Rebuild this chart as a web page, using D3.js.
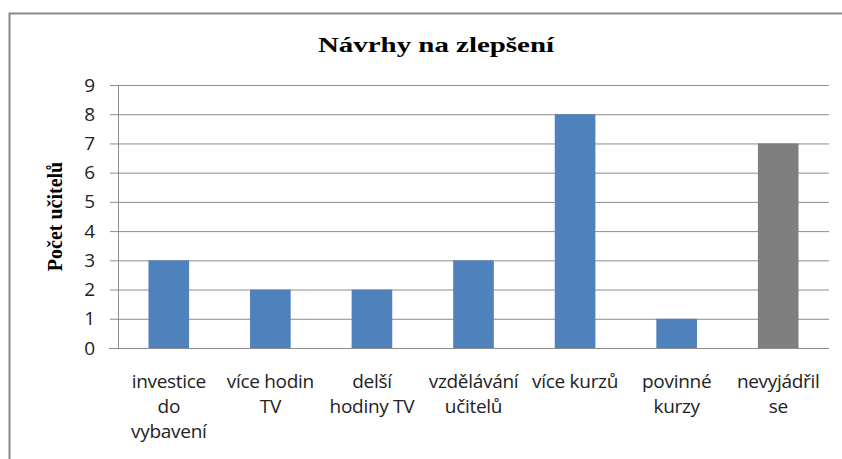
<!DOCTYPE html>
<html>
<head>
<meta charset="utf-8">
<script src="https://cdn.jsdelivr.net/npm/d3@7"></script>
<style>
  html, body { margin: 0; padding: 0; background: #fff; }
</style>
</head>
<body>
<div id="chart"></div>
<script>
// ---- data ----
const categories = ["investice do vybavení", "více hodin TV", "delší hodiny TV", "vzdělávání učitelů", "více kurzů", "povinné kurzy", "nevyjádřil se"];
const labelLines = [["investice", "do", "vybavení"], ["více hodin", "TV"], ["delší", "hodiny TV"], ["vzdělávání", "učitelů"], ["více kurzů"], ["povinné", "kurzy"], ["nevyjádřil", "se"]];
const values = [3, 2, 2, 3, 8, 1, 7];
const barColors = ["#4f81bd", "#4f81bd", "#4f81bd", "#4f81bd", "#4f81bd", "#4f81bd", "#7f7f7f"];
const yTicks = [0, 1, 2, 3, 4, 5, 6, 7, 8, 9];

const W = 842, H = 459;
const margin = {top: 85, right: 13, bottom: 111, left: 118};
const width = W - margin.left - margin.right;
const height = H - margin.top - margin.bottom;

const svg = d3.select("#chart").append("svg")
    .attr("width", W)
    .attr("height", H);

// outer frame
svg.append("rect")
    .attr("x", 9.5).attr("y", 13.5)
    .attr("width", 850).attr("height", 460)
    .attr("fill", "none")
    .attr("stroke", "#888")
    .attr("stroke-width", 2);

const g = svg.append("g").attr("transform", `translate(${margin.left},${margin.top})`);

const x = d3.scaleBand().domain(categories).range([0, width]).paddingInner(0.6).paddingOuter(0.3);
const y = d3.scaleLinear().domain([0, 9]).range([height, 0]);

// gridlines
g.append("g")
    .call(d3.axisLeft(y).tickValues(yTicks).tickSize(-width).tickFormat(""))
    .call(s => s.select(".domain").remove())
    .call(s => s.selectAll("line").attr("stroke", "#8c8c8c"));

// y axis
g.append("g")
    .call(d3.axisLeft(y).tickValues(yTicks).tickSize(8).tickPadding(15))
    .call(s => s.select(".domain").attr("stroke", "#8c8c8c"))
    .call(s => s.selectAll("line").attr("stroke", "#8c8c8c"))
    .call(s => s.selectAll("text")
        .attr("fill", "#222")
        .style("font-family", "'Open Sans', 'DejaVu Sans', sans-serif")
        .style("font-size", "19px"));

// bars
g.selectAll(".bar")
    .data(values)
    .enter().append("rect")
    .attr("x", (d, i) => x(categories[i]))
    .attr("y", d => y(d))
    .attr("width", x.bandwidth())
    .attr("height", d => height - y(d))
    .attr("fill", (d, i) => barColors[i]);

// bottom axis
g.append("line")
    .attr("x1", -9).attr("x2", width)
    .attr("y1", height + 0.5).attr("y2", height + 0.5)
    .attr("stroke", "#8c8c8c");

// category labels
const lab = g.append("g")
    .selectAll("text")
    .data(categories)
    .enter().append("text")
    .attr("text-anchor", "middle")
    .attr("fill", "#222")
    .style("font-family", "'Open Sans', 'DejaVu Sans', sans-serif")
    .style("font-size", "19px")
    .style("letter-spacing", "-0.3px")
    .attr("transform", d => `translate(${x(d) + x.bandwidth() / 2},${height + 40})`);

lab.selectAll("tspan")
    .data((d, i) => labelLines[i])
    .enter().append("tspan")
    .attr("x", 0)
    .attr("dy", (d, j) => j === 0 ? 0 : 25)
    .text(d => d);

// title
svg.append("text")
    .attr("x", 436)
    .attr("y", 52)
    .attr("text-anchor", "middle")
    .attr("textLength", 236)
    .attr("lengthAdjust", "spacingAndGlyphs")
    .style("font-family", "'Liberation Serif', 'Times New Roman', serif")
    .style("font-weight", "bold")
    .style("font-size", "22px")
    .text("Návrhy na zlepšení");

// y axis title
svg.append("text")
    .attr("transform", `translate(62,${margin.top + height / 2}) rotate(-90)`)
    .attr("text-anchor", "middle")
    .style("font-family", "'Liberation Serif', 'Times New Roman', serif")
    .style("font-weight", "bold")
    .style("font-size", "20px")
    .text("Počet učitelů");
</script>
</body>
</html>
